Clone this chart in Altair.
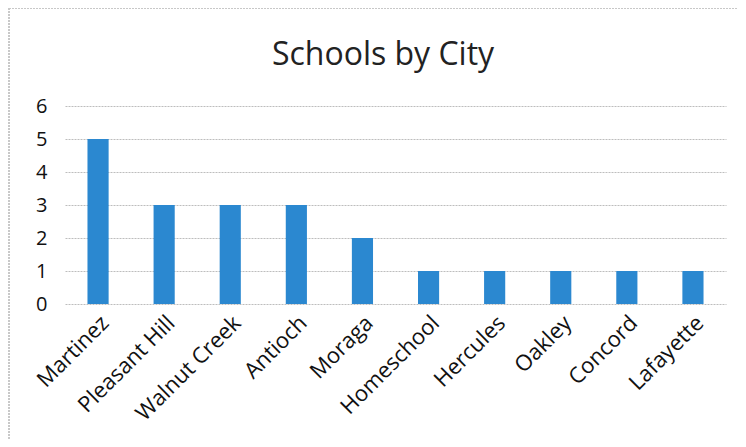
import altair as alt
import pandas as pd

cities = ["Martinez", "Pleasant Hill", "Walnut Creek", "Antioch", "Moraga",
          "Homeschool", "Hercules", "Oakley", "Concord", "Lafayette"]
counts = [5, 3, 3, 3, 2, 1, 1, 1, 1, 1]
title_text = ["Schools by City"]

df = pd.DataFrame({"City": cities, "Schools": counts})
tdf = pd.DataFrame({"t": title_text})

FONT = "Open Sans"
GRID = "#bdbdbd"

bars = alt.Chart(df).mark_bar(color="#2b88d0").encode(
    x=alt.X("City:N", sort=cities, title=None,
            scale=alt.Scale(paddingInner=0.68, paddingOuter=0.34),
            axis=alt.Axis(labelAngle=-45, labelFontSize=22, labelFont=FONT,
                          labelColor="#111", ticks=False, domain=False,
                          labelPadding=8, labelOverlap=False)),
    y=alt.Y("Schools:Q", title=None,
            scale=alt.Scale(domain=[0, 6], nice=False),
            axis=alt.Axis(values=[0, 1, 2, 3, 4, 5, 6], labelFontSize=20,
                          labelFont=FONT, labelColor="#111", ticks=False,
                          domain=False, labelPadding=18,
                          grid=True, gridColor=GRID, gridDash=[2, 1],
                          gridWidth=1)),
)

title = alt.Chart(tdf).mark_text(fontSize=32, font=FONT, color="#222",
                                 align="center", baseline="alphabetic").encode(
    text="t:N", x=alt.value(318), y=alt.value(-41)
)

border_left = alt.Chart(df).mark_rule(color="#c8c8c8", strokeDash=[2, 1]).encode(
    x=alt.value(-56), y=alt.value(-98), y2=alt.value(340)
)
border_top = alt.Chart(df).mark_rule(color="#c8c8c8", strokeDash=[2, 1]).encode(
    x=alt.value(-56), x2=alt.value(680), y=alt.value(-98)
)

chart = alt.layer(border_left, border_top, title, bars).properties(
    width=661, height=198,
    padding={"left": 57, "top": 98, "right": 12, "bottom": 135},
    autosize=alt.AutoSizeParams(type="none"),
).configure_view(stroke=None)

chart.save("out.html", embed_options={"renderer": "svg", "actions": False})
